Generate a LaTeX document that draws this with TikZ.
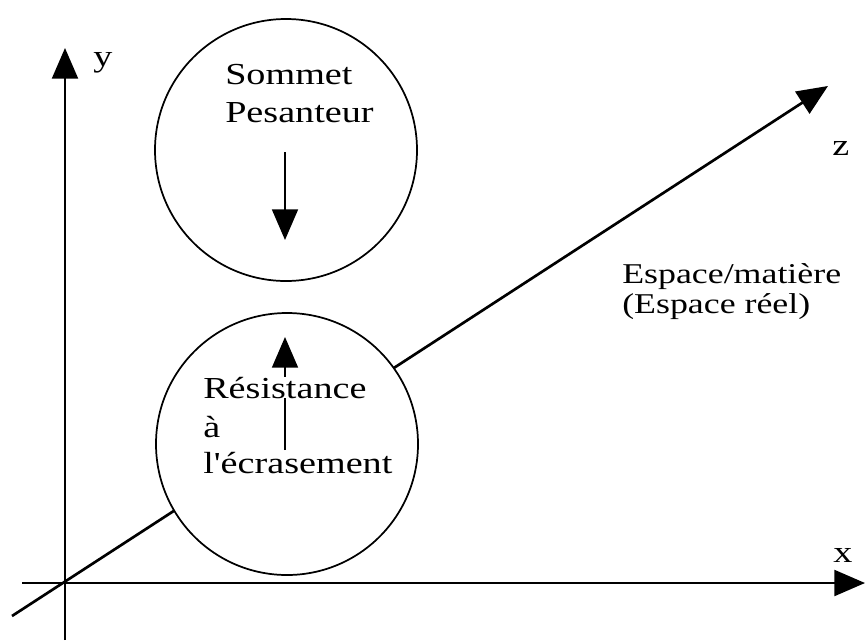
\documentclass[tikz,border=0pt]{standalone}
\usepackage{fontspec}
\setmainfont{Liberation Serif}[FakeStretch=1.25,Ligatures=TeXOff]
\usetikzlibrary{arrows.meta}
\begin{document}
\begin{tikzpicture}[x=0.75pt,y=-0.75pt,
  bigtri/.tip={Triangle[length=23pt,width=19.5pt]},
  axisline/.style={line width=1.6pt,-bigtri},
  zline/.style={line width=2pt,-bigtri},
  forcearrow/.style={line width=1.3pt,-bigtri},
  ball/.style={circle,draw,fill=white,line width=1.3pt,minimum size=196.5pt,inner sep=0pt},
  lbl/.style={anchor=base west,inner sep=0pt,font=\fontsize{22.9pt}{28pt}\selectfont},
  lblsmall/.style={anchor=base west,inner sep=0pt,font=\fontsize{21.5pt}{26pt}\selectfont}]
\useasboundingbox (0,0) rectangle (867,640);
% axes
\coordinate (ybot) at (65,640);
\coordinate (ytop) at (65,48);
\coordinate (xleft) at (22,583);
\coordinate (xright) at (865,583);
\coordinate (zleft) at (12,616);
\coordinate (ztop) at (828,86);
\draw[axisline] (ybot) -- (ytop);
\draw[axisline] (xleft) -- (xright);
\draw[zline] (zleft) -- (ztop);
% axis labels
\node[lbl] (ylab) at (93,66) {y};
\node[lbl] (zlab) at (832,155) {z};
\node[lbl] (xlab) at (833,562) {x};
% circles
\node[ball] (upper) at (286,150) {};
\node[ball] (lower) at (287,444) {};
% force arrows
\coordinate (dstart) at (285,152);
\coordinate (dend) at (285,240);
\coordinate (ustart) at (285,450);
\coordinate (uend) at (285,337);
\draw[forcearrow] (dstart) -- (dend);
\draw[forcearrow] (ustart) -- (uend);
% texts
\node[lbl] (t1) at (225,84) {Sommet};
\node[lbl] (t2) at (225,122) {Pesanteur};
\node[lbl,fill=white] (t3) at (203,398) {Résistance};
\node[lbl] (t4) at (203,437) {à};
\node[lbl] (t5) at (203,473) {l'écrasement};
\node[lblsmall] (t6) at (622,283) {Espace/matière};
\node[lblsmall] (t7) at (622,313) {(Espace réel)};
\end{tikzpicture}
\end{document}
